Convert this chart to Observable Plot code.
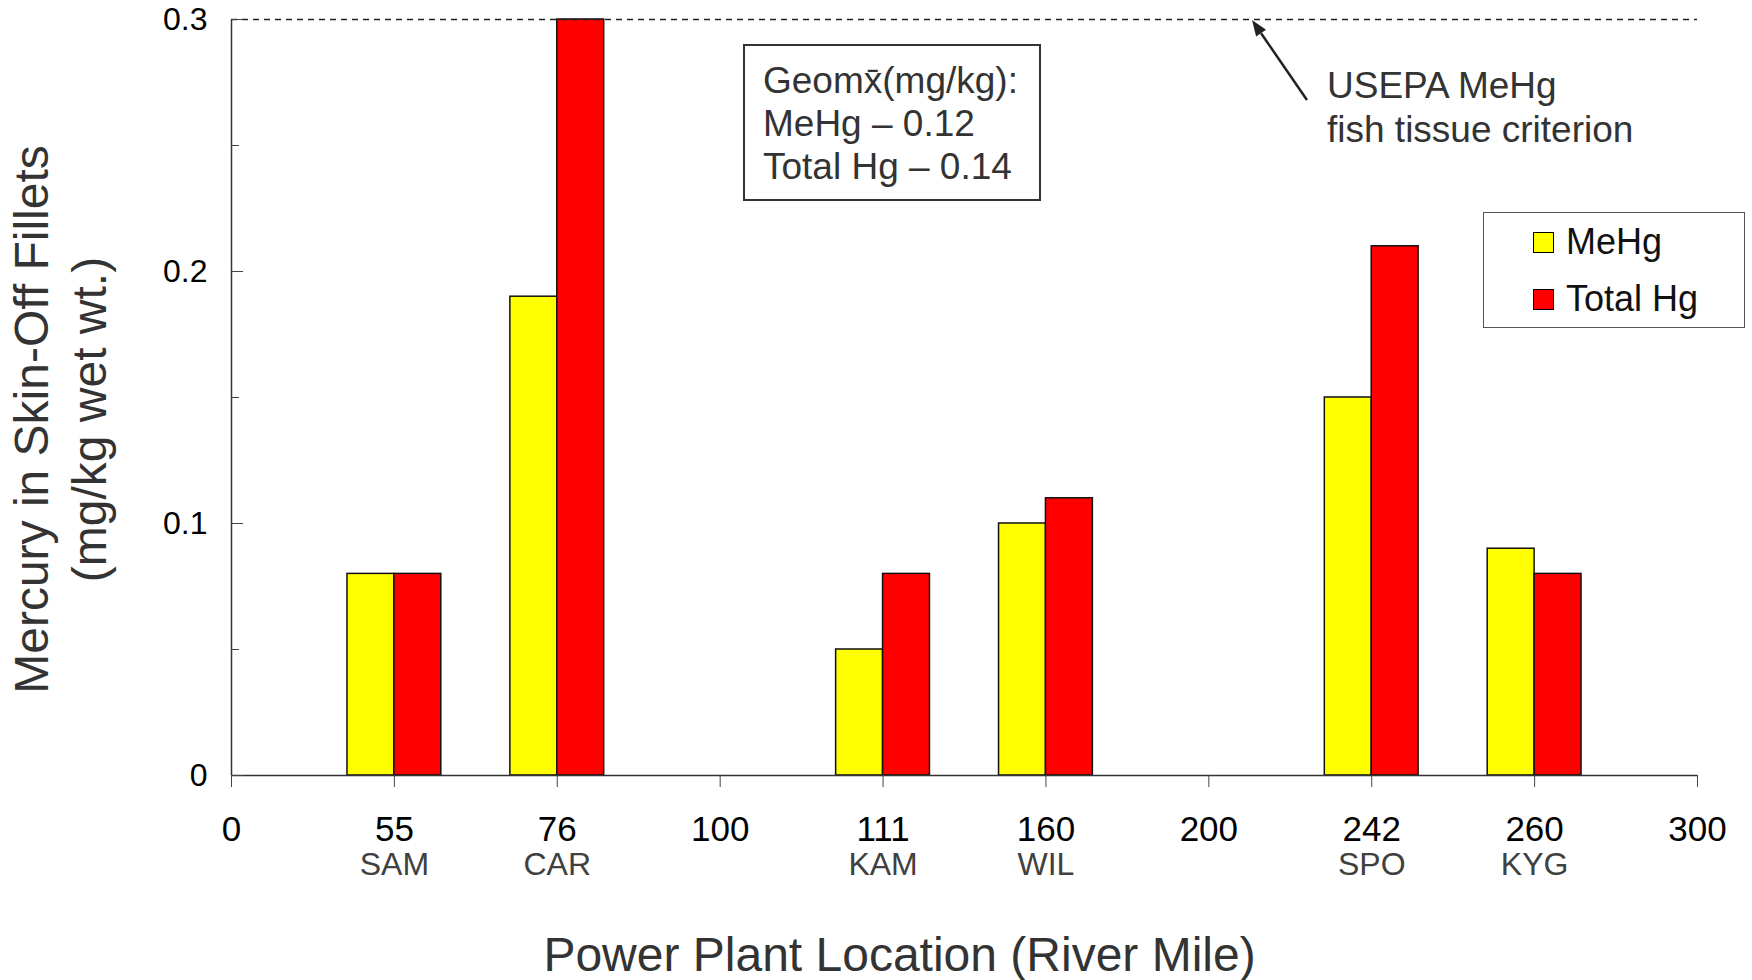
<!DOCTYPE html>
<html>
<head>
<meta charset="utf-8">
<script src="https://cdn.jsdelivr.net/npm/d3@7"></script>
<script src="https://cdn.jsdelivr.net/npm/@observablehq/plot@0.6"></script>
<style>
  body { margin: 0; background: #fff; font-family: "Liberation Sans", Arial, sans-serif; }
  #wrap { position: relative; width: 1752px; height: 980px; overflow: hidden; background: #fff; }
  .abs { position: absolute; box-sizing: border-box; white-space: nowrap; }
  #geo { left: 743px; top: 44px; width: 298px; height: 157px; border: 2px solid #333;
         padding: 13px 0 0 18px; font-size: 37px; line-height: 43px; color: #333; }
  #legend { left: 1483px; top: 212px; width: 262px; height: 116px; border: 1px solid #555; background: #fff; }
  .sw { width: 21px; height: 21px; border: 1px solid #000; }
  .lt { font-size: 36px; line-height: 40px; height: 40px; color: #111; }
  #usepa { left: 1327px; top: 64px; font-size: 37px; line-height: 44px; color: #333; }
  #arrow { position: absolute; left: 0; top: 0; pointer-events: none; }
</style>
</head>
<body>
<div id="wrap"></div>
<script>
// ---- data ----
const ticks   = ["0", "55", "76", "100", "111", "160", "200", "242", "260", "300"];
const sites   = ["", "SAM", "CAR", "", "KAM", "WIL", "", "SPO", "KYG", ""];
const meHg    = [null, 0.08, 0.19, null, 0.05, 0.10, null, 0.15, 0.09, null];
const totalHg = [null, 0.08, 0.30, null, 0.08, 0.11, null, 0.21, 0.08, null];
const seriesNames  = ["MeHg", "Total Hg"];
const seriesColors = ["#ffff00", "#ff0000"];
const criterion = 0.3;
const yMajor = [0, 0.1, 0.2, 0.3];
const yMinor = [0.05, 0.15, 0.25];
const geoLines = ["Geomx\u0304(mg/kg):", "MeHg \u2013 0.12", "Total Hg \u2013 0.14"];
const criterionLines = ["USEPA MeHg", "fish tissue criterion"];

// ---- table ----
const barW = 0.288;
const bars = [];
ticks.forEach((t, i) => {
  if (meHg[i] != null) bars.push({i, series: seriesNames[0], value: meHg[i]});
  if (totalHg[i] != null) bars.push({i, series: seriesNames[1], value: totalHg[i]});
});

const chart = Plot.plot({
  width: 1752, height: 980,
  marginTop: 19, marginBottom: 205, marginLeft: 231, marginRight: 55,
  style: {fontFamily: '"Liberation Sans", Arial, sans-serif', background: "white", overflow: "visible"},
  x: {type: "linear", domain: [0, ticks.length - 1]},
  y: {type: "linear", domain: [0, 0.3]},
  color: {domain: seriesNames, range: seriesColors},
  marks: [
    Plot.rectY(bars, {
      x1: d => d.series === seriesNames[0] ? d.i - barW : d.i,
      x2: d => d.series === seriesNames[0] ? d.i : d.i + barW,
      y1: 0, y2: "value", fill: "series", stroke: "#111", strokeWidth: 1.5
    }),
    Plot.ruleY([criterion], {stroke: "#222", strokeWidth: 1.5, strokeDasharray: "6,5"}),
    Plot.ruleX([0], {stroke: "#333", strokeWidth: 1.5}),
    Plot.ruleY([0], {stroke: "#333", strokeWidth: 1.5}),
    Plot.axisY({ticks: yMajor, tickSize: 12, dx: 12, fill: "none", stroke: "#444", label: null}),
    Plot.axisY({ticks: yMinor, tickSize: 8, dx: 8, fill: "none", stroke: "#444", label: null}),
    Plot.axisY({ticks: yMajor, tickSize: 0, tickPadding: 24, tickFormat: d => String(d),
                fontSize: 32, fill: "#000", label: null}),
    Plot.axisX({ticks: d3.range(ticks.length), tickSize: 12, tickPadding: 29, tickFormat: i => ticks[i],
                fontSize: 35, fill: "#000", stroke: "#444", label: null}),
    Plot.axisX({ticks: d3.range(ticks.length), tickSize: 0, tickPadding: 77, tickFormat: i => sites[i],
                fontSize: 32, fill: "#404040", label: null}),
    Plot.text(["Mercury in Skin-Off Fillets\n(mg/kg wet wt.)"], {
      text: d => d, frameAnchor: "left", rotate: -90, dx: -173, dy: 22,
      fontSize: 48, lineHeight: 1.21, fill: "#333", textAnchor: "middle"
    }),
    Plot.text(["Power Plant Location (River Mile)"], {
      text: d => d, frameAnchor: "bottom", dx: -65, dy: 195, fontSize: 48, fill: "#333"
    })
  ]
});

const wrap = document.getElementById("wrap");
wrap.appendChild(chart);

// annotation box
const geo = document.createElement("div");
geo.className = "abs"; geo.id = "geo";
geo.innerHTML = geoLines.join("<br>");
wrap.appendChild(geo);

// criterion label
const us = document.createElement("div");
us.className = "abs"; us.id = "usepa";
us.innerHTML = criterionLines.join("<br>");
wrap.appendChild(us);

// arrow pointing at criterion line
const tip = [1252, 20], tail = [1307, 100];
const vx = tip[0] - tail[0], vy = tip[1] - tail[1], L = Math.hypot(vx, vy);
const ux = vx / L, uy = vy / L, hl = 16, hw = 6;
const bx = tip[0] - ux * hl, by = tip[1] - uy * hl;
const svgNS = "http://www.w3.org/2000/svg";
const asvg = document.createElementNS(svgNS, "svg");
asvg.setAttribute("id", "arrow"); asvg.setAttribute("width", 1752); asvg.setAttribute("height", 980);
asvg.innerHTML =
  `<line x1="${tail[0]}" y1="${tail[1]}" x2="${bx}" y2="${by}" stroke="#222" stroke-width="2.5"/>` +
  `<polygon points="${tip[0]},${tip[1]} ${bx - uy * hw},${by + ux * hw} ${bx + uy * hw},${by - ux * hw}" fill="#222"/>`;
wrap.appendChild(asvg);

// legend
const leg = document.createElement("div");
leg.className = "abs"; leg.id = "legend";
wrap.appendChild(leg);
seriesNames.forEach((name, k) => {
  const cy = 242 + k * 57;
  const sw = document.createElement("div");
  sw.className = "abs sw";
  sw.style.left = "1533px"; sw.style.top = (cy - 10) + "px"; sw.style.background = seriesColors[k];
  wrap.appendChild(sw);
  const t = document.createElement("div");
  t.className = "abs lt";
  t.style.left = "1566px"; t.style.top = (cy - 20) + "px";
  t.textContent = name;
  wrap.appendChild(t);
});
</script>
</body>
</html>
